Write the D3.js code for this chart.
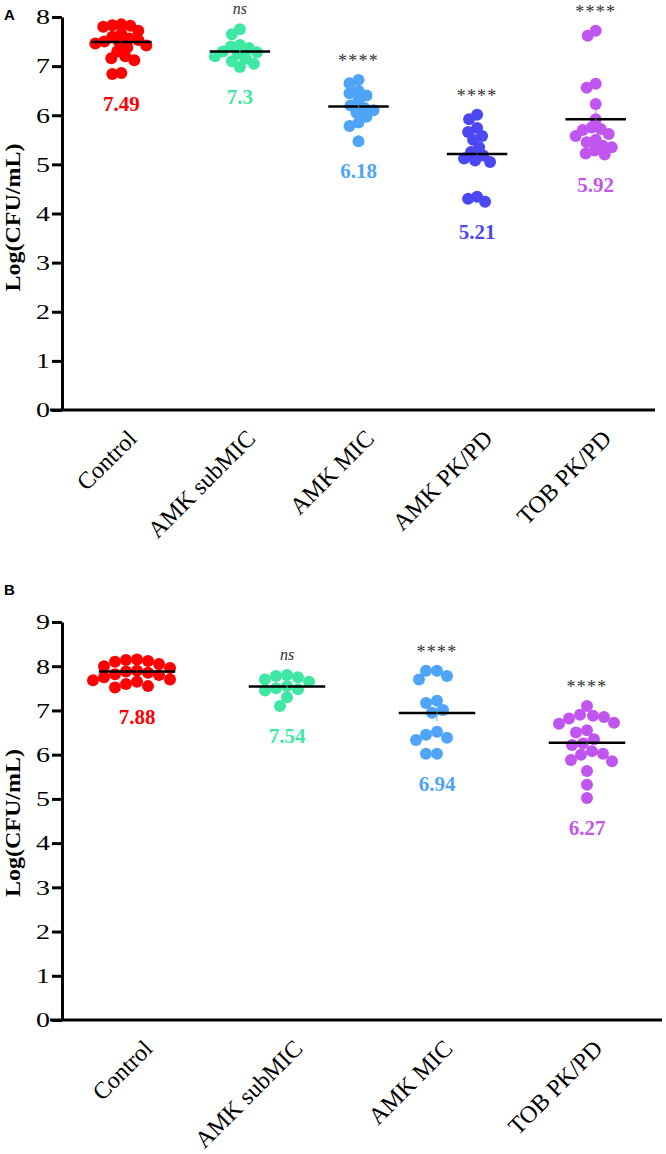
<!DOCTYPE html>
<html><head><meta charset="utf-8">
<script src="https://cdn.jsdelivr.net/npm/d3@7"></script>
<style>body{margin:0;background:#fff}svg{display:block}</style>
</head><body>
<svg id="chart" width="666" height="1154"></svg>
<script>
// ---------- Panel A data ----------
const categoriesA = ["Control", "AMK subMIC", "AMK MIC", "AMK PK/PD", "TOB PK/PD"];
const controlA  = [7.85, 7.83, 7.82, 7.8, 7.72, 7.66, 7.6, 7.56, 7.53, 7.5, 7.48, 7.46, 7.42, 7.38, 7.3, 7.2, 7.16, 7.12, 6.86, 6.84];
const subMicA   = [7.75, 7.65, 7.43, 7.4, 7.37, 7.3, 7.28, 7.25, 7.2, 7.15, 7.1, 7.05, 6.98];
const micA      = [6.72, 6.65, 6.5, 6.45, 6.4, 6.3, 6.2, 6.15, 6.1, 6.05, 5.97, 5.85, 5.78, 5.47];
const amkPkA    = [6.01, 5.92, 5.74, 5.66, 5.58, 5.5, 5.35, 5.25, 5.18, 5.12, 5.08, 5.05, 4.34, 4.3, 4.24];
const tobPkA    = [7.72, 7.62, 6.64, 6.56, 6.23, 5.92, 5.75, 5.72, 5.7, 5.62, 5.58, 5.5, 5.45, 5.38, 5.35, 5.28, 5.22, 5.2];
const meansA    = [7.49, 7.3, 6.18, 5.21, 5.92];
const signifA   = ["", "ns", "****", "****", "****"];
const ticksA    = [0, 1, 2, 3, 4, 5, 6, 7, 8];

// ---------- Panel B data ----------
const categoriesB = ["Control", "AMK subMIC", "AMK MIC", "TOB PK/PD"];
const controlB  = [8.15, 8.14, 8.12, 8.1, 8.05, 8.0, 7.96, 7.9, 7.88, 7.85, 7.82, 7.8, 7.75, 7.7, 7.68, 7.65, 7.6, 7.55, 7.52];
const subMicB   = [7.8, 7.78, 7.75, 7.7, 7.65, 7.55, 7.5, 7.48, 7.45, 7.3, 7.1];
const micB      = [7.9, 7.9, 7.78, 7.7, 7.22, 7.17, 7.01, 6.95, 6.52, 6.45, 6.38, 6.33, 6.02, 6.02];
const tobPkB    = [7.1, 6.9, 6.88, 6.85, 6.82, 6.72, 6.7, 6.55, 6.5, 6.35, 6.25, 6.22, 6.08, 6.02, 6.0, 5.88, 5.85, 5.63, 5.32, 5.02];
const meansB    = [7.88, 7.54, 6.94, 6.27];
const signifB   = ["", "ns", "****", "****"];
const ticksB    = [0, 1, 2, 3, 4, 5, 6, 7, 8, 9];

const colorsA = ["#ff0000", "#3ee8a2", "#4ea4f6", "#4b47f2", "#c155ef"];
const colorsB = ["#ff0000", "#3ee8a2", "#4ea4f6", "#c155ef"];

const svg = d3.select("#chart");
const SERIF = "'Liberation Serif','Times New Roman',serif";

function swarm(vals, y, minDist) {
  const sorted = vals.map(v => ({v, py: y(v)})).sort((a, b) => b.v - a.v);
  const placed = [];
  sorted.forEach(p => {
    let best = 0;
    for (let k = 0; k < 200; k++) {
      const off = (k % 2 === 0 ? 1 : -1) * Math.ceil(k / 2);
      const ok = placed.every(q => Math.hypot(q.dx - off, q.py - p.py) >= minDist);
      if (ok) { best = off; break; }
    }
    p.dx = best;
    placed.push(p);
  });
  return placed;
}

function panel(cfg) {
  const g = svg.append("g");
  const x = d3.scaleBand().domain(cfg.categories).range([cfg.left, cfg.right]);
  const y = d3.scaleLinear().domain([0, cfg.max]).range([cfg.bottom, cfg.top]);

  // y axis
  const ya = g.append("g").attr("transform", `translate(${cfg.left},0)`)
    .call(d3.axisLeft(y).tickValues(cfg.ticks).tickSize(10).tickSizeOuter(0).tickFormat(d3.format("d")));
  ya.select(".domain").attr("stroke", "#000").attr("stroke-width", 3);
  ya.selectAll(".tick line").attr("stroke", "#000").attr("stroke-width", 3);
  ya.selectAll(".tick text").attr("font-family", SERIF).attr("font-size", 20).attr("fill", "#000")
    .attr("x", -12 / 1.4).attr("dy", "0.34em").attr("transform", "scale(1.4,1)");

  // x axis
  const xa = g.append("g").attr("transform", `translate(0,${cfg.bottom})`)
    .call(d3.axisBottom(x).tickSize(0).tickSizeOuter(0));
  xa.select(".domain").attr("stroke", "#000").attr("stroke-width", 3)
    .attr("d", `M${cfg.left - 12},0H${cfg.right}`);
  xa.selectAll(".tick text").attr("font-family", SERIF).attr("font-size", 24).attr("fill", "#000")
    .attr("text-anchor", "end").attr("x", 0).attr("y", 0).attr("dy", 0)
    .attr("transform", "translate(17,30) rotate(-45)");

  // y title
  g.append("text").attr("transform", `translate(${cfg.titleX},${(cfg.top + cfg.bottom) / 2 + cfg.titleShift}) rotate(-90)`)
    .attr("text-anchor", "middle").attr("font-family", SERIF).attr("font-weight", "bold")
    .attr("font-size", 22).attr("textLength", 148).attr("lengthAdjust", "spacingAndGlyphs")
    .text("Log(CFU/mL)");

  // panel letter
  g.append("text").attr("x", 4).attr("y", cfg.letterY).attr("font-family", "'Liberation Sans',Arial,sans-serif")
    .attr("font-weight", "bold").attr("font-size", 15).text(cfg.letter);

  const r = 6;
  cfg.series.forEach((vals, i) => {
    const cx = x(cfg.categories[i]) + x.bandwidth() / 2;
    const col = cfg.colors[i];
    const pts = swarm(vals, y, cfg.spread);
    g.append("g").selectAll("circle").data(pts).join("circle")
      .attr("cx", d => cx + d.dx).attr("cy", d => d.py).attr("r", r).attr("fill", col);
    // mean line
    const m = cfg.means[i];
    const hw = x.bandwidth() * 0.255;
    g.append("line").attr("x1", cx - hw).attr("x2", cx + hw).attr("y1", y(m)).attr("y2", y(m))
      .attr("stroke", "#000").attr("stroke-width", 2.5);
    // SEM
    const sem = d3.deviation(vals) / Math.sqrt(vals.length);
    g.append("line").attr("x1", cx).attr("x2", cx).attr("y1", y(m - sem)).attr("y2", y(m + sem))
      .attr("stroke", col).attr("stroke-opacity", 0.55).attr("stroke-width", 1.5);
    // mean label
    const ymin = y(d3.min(vals));
    g.append("text").attr("x", cx).attr("y", ymin + 37).attr("text-anchor", "middle")
      .attr("font-family", SERIF).attr("font-weight", "bold").attr("font-size", 21).attr("fill", col)
      .text(d3.format(".3~f")(m));
    // significance
    const s = cfg.signif[i];
    if (s) {
      const ymax = y(d3.max(vals));
      const t = g.append("text").attr("x", cx).attr("text-anchor", "middle").attr("font-family", SERIF)
        .attr("fill", "#333").text(s);
      if (s === "ns") t.attr("y", ymax - 15).attr("font-style", "italic").attr("font-size", 16);
      else t.attr("y", ymax - 13).attr("font-size", 18).attr("letter-spacing", 1.2);
    }
  });
}

panel({categories: categoriesA, series: [controlA, subMicA, micA, amkPkA, tobPkA], means: meansA,
  signif: signifA, colors: colorsA, ticks: ticksA, max: 8, top: 17, bottom: 410, left: 62, right: 655,
  letter: "A", letterY: 20, titleX: 20, titleShift: 4, spread: 9});
panel({categories: categoriesB, series: [controlB, subMicB, micB, tobPkB], means: meansB,
  signif: signifB, colors: colorsB, ticks: ticksB, max: 9, top: 622, bottom: 1020, left: 62, right: 662,
  letter: "B", letterY: 595, titleX: 20, titleShift: 2, spread: 11});
</script>
</body></html>
